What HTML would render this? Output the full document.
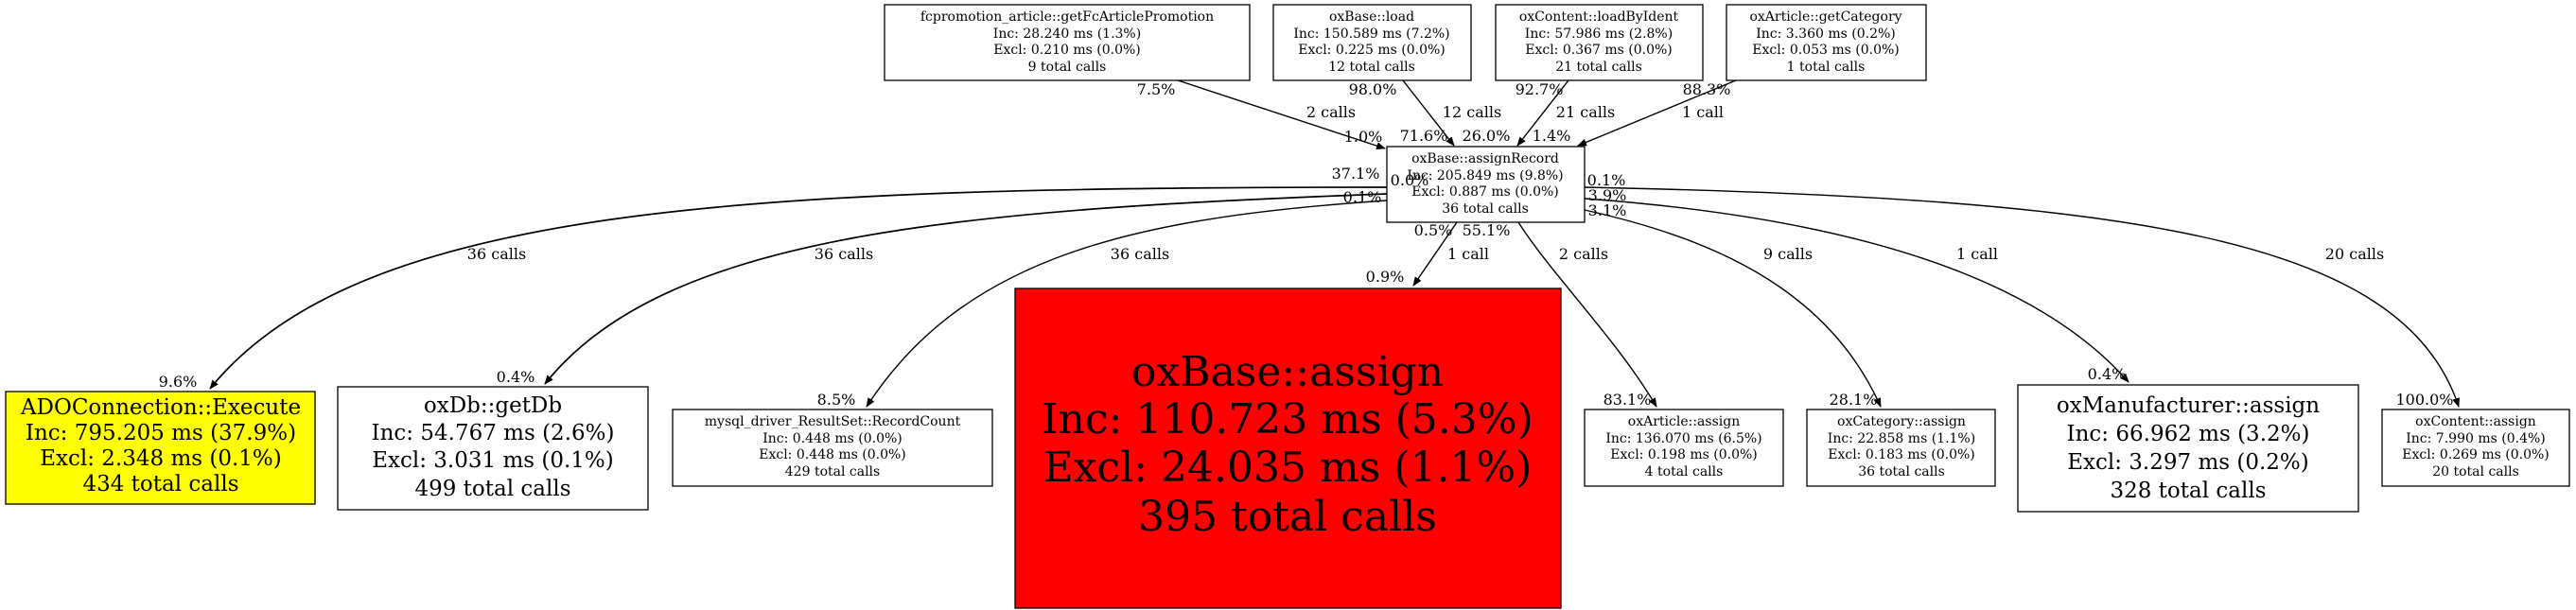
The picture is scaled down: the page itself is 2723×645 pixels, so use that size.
<!DOCTYPE html>
<html><head><meta charset="utf-8"><style>
html,body{margin:0;padding:0;background:#fff;}
svg{display:block;}
text{font-family:"DejaVu Serif","Liberation Serif",serif;fill:#000;}
.s{font-size:14px;}
.e{font-size:16px;}
.m{font-size:23px;}
.b{font-size:44px;}
</style></head><body>
<svg width="2723" height="645" viewBox="0 0 2723 645" xmlns="http://www.w3.org/2000/svg">
<defs><marker id="a" markerWidth="10" markerHeight="10" refX="9" refY="4" orient="auto" markerUnits="userSpaceOnUse"><path d="M0,0 L10,4 L0,8 z" fill="#000"/></marker></defs>
<g fill="none" stroke="#000" stroke-width="1.4">
<path d="M1245,85 L1464,157" marker-end="url(#a)"/>
<path d="M1483,85 L1537,154" marker-end="url(#a)"/>
<path d="M1658,85 L1604,154" marker-end="url(#a)"/>
<path d="M1835,85 L1668,154" marker-end="url(#a)"/>
<path d="M1466,198 C800,198 380,215 222,411" stroke-width="1.7" marker-end="url(#a)"/>
<path d="M1466,205 C1000,222 700,250 576,406" stroke-width="1.7" marker-end="url(#a)"/>
<path d="M1466,212 C1200,230 1020,270 916,430" marker-end="url(#a)"/>
<path d="M1540,235 L1494,302" marker-end="url(#a)"/>
<path d="M1605,235 C1640,290 1710,360 1751,430" marker-end="url(#a)"/>
<path d="M1675,222 C1800,250 1930,300 1988,430" marker-end="url(#a)"/>
<path d="M1675,210 C1950,230 2150,290 2250,404" marker-end="url(#a)"/>
<path d="M1675,198 C2250,210 2540,250 2599,430" marker-end="url(#a)"/>
</g>
<g stroke="#000" stroke-width="1.3">
<rect x="935" y="5" width="386" height="80" fill="#fff"/>
<rect x="1346" y="5" width="209" height="80" fill="#fff"/>
<rect x="1581" y="5" width="219" height="80" fill="#fff"/>
<rect x="1825" y="5" width="211" height="80" fill="#fff"/>
<rect x="1466" y="155" width="209" height="80" fill="#fff"/>
<rect x="6" y="414" width="327" height="119" fill="#ffff00"/>
<rect x="357" y="409" width="328" height="130" fill="#fff"/>
<rect x="711" y="433" width="338" height="81" fill="#fff"/>
<rect x="1073" y="305" width="577" height="338" fill="#ff0000"/>
<rect x="1675" y="433" width="210" height="81" fill="#fff"/>
<rect x="1910" y="433" width="199" height="81" fill="#fff"/>
<rect x="2133" y="407" width="360" height="134" fill="#fff"/>
<rect x="2518" y="433" width="198" height="81" fill="#fff"/>
</g>
<g class="s" text-anchor="middle">
<text x="1128" y="22">fcpromotion_article::getFcArticlePromotion</text><text x="1128" y="40">Inc: 28.240 ms (1.3%)</text><text x="1128" y="57">Excl: 0.210 ms (0.0%)</text><text x="1128" y="75">9 total calls</text>
<text x="1450" y="22">oxBase::load</text><text x="1450" y="40">Inc: 150.589 ms (7.2%)</text><text x="1450" y="57">Excl: 0.225 ms (0.0%)</text><text x="1450" y="75">12 total calls</text>
<text x="1690" y="22">oxContent::loadByIdent</text><text x="1690" y="40">Inc: 57.986 ms (2.8%)</text><text x="1690" y="57">Excl: 0.367 ms (0.0%)</text><text x="1690" y="75">21 total calls</text>
<text x="1930" y="22">oxArticle::getCategory</text><text x="1930" y="40">Inc: 3.360 ms (0.2%)</text><text x="1930" y="57">Excl: 0.053 ms (0.0%)</text><text x="1930" y="75">1 total calls</text>
<text x="1570" y="172">oxBase::assignRecord</text><text x="1570" y="190">Inc: 205.849 ms (9.8%)</text><text x="1570" y="207">Excl: 0.887 ms (0.0%)</text><text x="1570" y="225">36 total calls</text>
<text x="880" y="450">mysql_driver_ResultSet::RecordCount</text><text x="880" y="468">Inc: 0.448 ms (0.0%)</text><text x="880" y="485">Excl: 0.448 ms (0.0%)</text><text x="880" y="503">429 total calls</text>
<text x="1780" y="450">oxArticle::assign</text><text x="1780" y="468">Inc: 136.070 ms (6.5%)</text><text x="1780" y="485">Excl: 0.198 ms (0.0%)</text><text x="1780" y="503">4 total calls</text>
<text x="2010" y="450">oxCategory::assign</text><text x="2010" y="468">Inc: 22.858 ms (1.1%)</text><text x="2010" y="485">Excl: 0.183 ms (0.0%)</text><text x="2010" y="503">36 total calls</text>
<text x="2617" y="450">oxContent::assign</text><text x="2617" y="468">Inc: 7.990 ms (0.4%)</text><text x="2617" y="485">Excl: 0.269 ms (0.0%)</text><text x="2617" y="503">20 total calls</text>
</g>
<g class="m" text-anchor="middle">
<text x="170" y="438">ADOConnection::Execute</text><text x="170" y="465">Inc: 795.205 ms (37.9%)</text><text x="170" y="492">Excl: 2.348 ms (0.1%)</text><text x="170" y="519">434 total calls</text>
<text x="521" y="436">oxDb::getDb</text><text x="521" y="465">Inc: 54.767 ms (2.6%)</text><text x="521" y="494">Excl: 3.031 ms (0.1%)</text><text x="521" y="524">499 total calls</text>
<text x="2313" y="436">oxManufacturer::assign</text><text x="2313" y="466">Inc: 66.962 ms (3.2%)</text><text x="2313" y="496">Excl: 3.297 ms (0.2%)</text><text x="2313" y="526">328 total calls</text>
</g>
<g class="b" text-anchor="middle">
<text x="1361" y="408">oxBase::assign</text><text x="1361" y="458">Inc: 110.723 ms (5.3%)</text><text x="1361" y="509">Excl: 24.035 ms (1.1%)</text><text x="1361" y="561">395 total calls</text>
</g>
<g class="e" text-anchor="middle">
<text x="1222" y="100">7.5%</text><text x="1407" y="124">2 calls</text><text x="1441" y="150">1.0%</text>
<text x="1451" y="100">98.0%</text><text x="1556" y="124">12 calls</text><text x="1505" y="149">71.6%</text>
<text x="1627" y="100">92.7%</text><text x="1676" y="124">21 calls</text><text x="1571" y="149">26.0%</text>
<text x="1804" y="100">88.3%</text><text x="1800" y="124">1 call</text><text x="1640" y="149">1.4%</text>
<text x="1433" y="189">37.1%</text><text x="1490" y="196">0.0%</text><text x="1440" y="214">0.1%</text>
<text x="1698" y="196">0.1%</text><text x="1699" y="212">3.9%</text><text x="1699" y="228">3.1%</text>
<text x="1515" y="249">0.5%</text><text x="1571" y="249">55.1%</text>
<text x="525" y="274">36 calls</text><text x="188" y="409">9.6%</text>
<text x="892" y="274">36 calls</text><text x="545" y="404">0.4%</text>
<text x="1205" y="274">36 calls</text><text x="884" y="428">8.5%</text>
<text x="1552" y="274">1 call</text><text x="1464" y="298">0.9%</text>
<text x="1674" y="274">2 calls</text><text x="1720" y="428">83.1%</text>
<text x="1890" y="274">9 calls</text><text x="1959" y="428">28.1%</text>
<text x="2090" y="274">1 call</text><text x="2227" y="401">0.4%</text>
<text x="2489" y="274">20 calls</text><text x="2563" y="428">100.0%</text>
</g>
</svg>
</body></html>
